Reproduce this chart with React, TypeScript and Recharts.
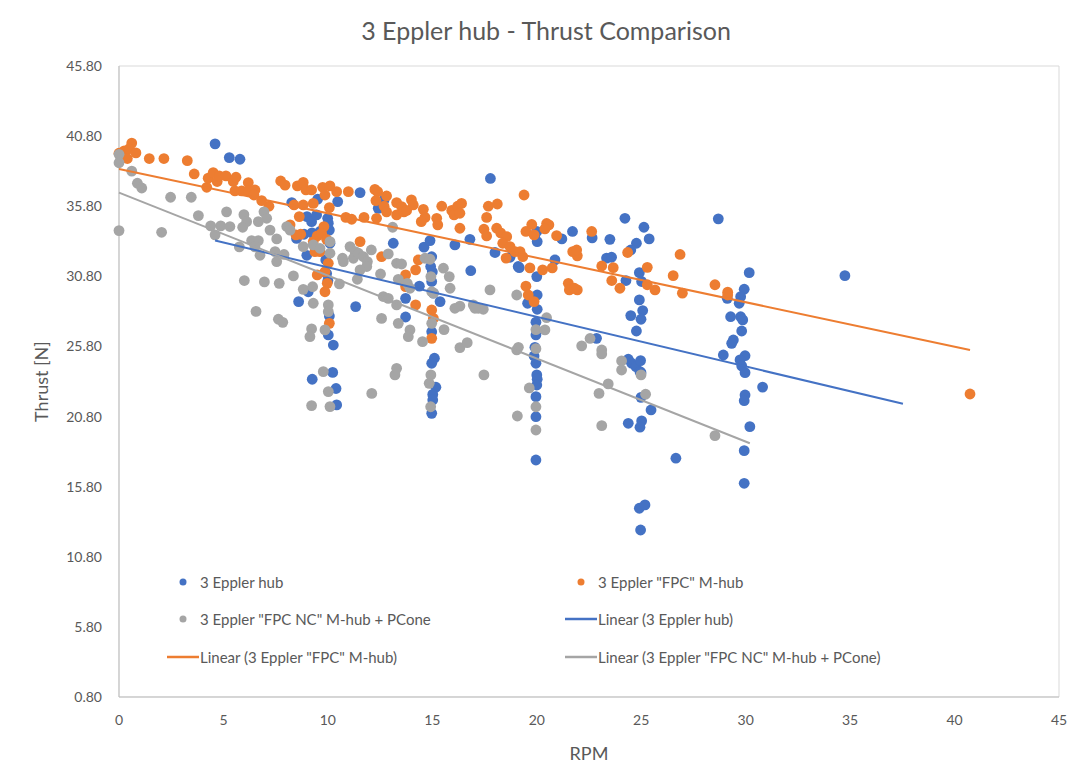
import { ScatterChart, Scatter, XAxis, YAxis, ReferenceArea, Label } from 'recharts';

const FONT = 'Lato, "Open Sans", sans-serif';
const TEXT = '#595959';
const BLUE = '#4472C4';
const ORANGE = '#ED7D31';
const GRAY = '#A5A5A5';

const xTicks = [0, 5, 10, 15, 20, 25, 30, 35, 40, 45];
const yTicks = [0.8, 5.8, 10.8, 15.8, 20.8, 25.8, 30.8, 35.8, 40.8, 45.8];

// [rpm, thrust]
const hub = [
  [4.6, 40.25], [5.28, 39.27], [5.79, 39.15], [8.27, 36.06], [9.51, 36.3], [10.47, 36.13], [9.0, 35.06], [9.22, 34.7],
  [9.46, 35.18], [9.99, 34.94], [10.02, 34.59], [8.5, 33.5], [8.86, 33.8], [9.24, 33.9], [9.62, 34.0], [10.07, 34.1],
  [10.1, 33.16], [9.9, 31.97], [9.94, 31.0], [10.0, 30.5], [8.99, 32.3], [9.06, 29.7], [8.6, 29.0], [10.07, 27.97],
  [11.33, 28.64], [11.54, 36.77], [17.78, 37.78], [12.41, 35.65], [12.69, 36.25], [13.13, 33.16], [14.6, 32.88],
  [14.89, 33.35], [14.97, 32.2], [14.92, 31.5], [15.0, 31.13], [14.97, 30.43], [15.05, 29.6], [15.37, 29.0],
  [13.72, 29.23], [14.38, 30.1], [16.08, 33.04], [16.8, 33.44], [16.84, 31.2], [18.0, 32.5], [18.72, 32.16],
  [19.11, 31.5], [13.72, 27.9], [24.22, 34.94], [25.13, 34.3], [25.38, 33.47], [24.77, 33.16], [24.5, 32.68],
  [28.69, 34.9], [21.71, 34.0], [22.65, 33.54], [23.5, 33.44], [21.2, 33.47], [19.91, 33.76], [20.02, 33.28],
  [20.0, 34.0], [20.87, 31.97], [19.16, 31.42], [23.34, 32.1], [23.58, 32.16], [24.27, 30.5], [24.91, 31.06],
  [25.02, 30.43], [20.0, 30.78], [20.02, 29.47], [20.02, 28.45], [19.96, 27.53], [19.96, 26.62], [19.91, 25.74],
  [19.87, 25.12], [19.96, 24.6], [20.0, 23.77], [20.02, 23.46], [20.0, 23.05], [19.96, 22.22], [19.96, 20.79],
  [19.96, 17.7], [19.56, 28.88], [22.86, 26.38], [24.91, 29.12], [25.07, 28.36], [24.99, 27.74], [24.77, 26.9],
  [24.5, 28.0], [24.38, 24.89], [24.54, 24.6], [24.75, 24.36], [24.97, 24.79], [24.94, 24.0], [24.99, 22.17],
  [30.17, 31.06], [29.93, 29.88], [29.76, 29.35], [29.69, 28.88], [29.12, 29.23], [29.28, 27.92], [29.76, 27.92],
  [29.86, 27.69], [29.81, 26.9], [29.41, 26.26], [29.33, 26.02], [29.97, 25.14], [29.73, 24.84], [29.81, 24.41],
  [29.97, 23.93], [28.93, 25.19], [30.81, 22.9], [29.97, 22.34], [34.75, 30.85], [29.93, 21.93], [30.2, 20.08],
  [29.93, 18.37], [29.93, 16.04], [24.99, 23.93], [25.47, 21.27], [24.38, 20.32], [25.02, 20.49], [24.94, 20.04],
  [26.66, 17.83], [24.91, 14.26], [25.18, 14.5], [24.97, 12.71], [10.02, 26.62], [10.26, 25.9], [9.25, 23.46],
  [10.23, 23.95], [10.39, 22.8], [10.42, 21.63], [14.97, 26.85], [15.1, 24.96], [14.97, 24.6], [15.17, 22.89],
  [15.02, 22.38], [15.02, 21.98], [14.97, 21.03],
];

const fpcHub = [
  [0, 39.58], [0.25, 39.75], [0.61, 40.3], [0.49, 39.9], [0.81, 39.6], [0.4, 39.2], [1.45, 39.2], [2.15, 39.2],
  [3.27, 39.05], [3.6, 38.1], [4.2, 37.15], [4.27, 37.8], [4.51, 38.2], [4.7, 37.56], [4.8, 37.96], [5.12, 37.96],
  [5.47, 37.56], [5.6, 37.87], [5.55, 36.89], [5.87, 36.89], [6.19, 37.48], [6.19, 36.89], [6.51, 36.96],
  [6.46, 36.6], [7.74, 37.6], [7.95, 37.3], [8.54, 37.25], [8.82, 37.5], [8.95, 36.96], [9.22, 36.96],
  [9.75, 37.15], [10.1, 37.25], [10.42, 36.84], [10.98, 36.84], [9.86, 36.6], [10.07, 35.7], [10.86, 35.0],
  [11.73, 35.0], [12.33, 34.94], [12.25, 37.0], [12.38, 36.84], [12.81, 36.53], [12.3, 36.2], [12.69, 35.8],
  [12.81, 35.4], [13.29, 36.06], [13.53, 35.77], [13.29, 35.18], [13.64, 35.4], [14.0, 36.25], [14.09, 35.89],
  [13.77, 35.5], [14.57, 35.58], [14.65, 35.0], [14.47, 34.7], [15.21, 34.94], [15.26, 34.47], [15.45, 35.8],
  [15.93, 35.5], [16.04, 35.18], [16.21, 35.8], [16.4, 36.0], [16.32, 35.3], [16.32, 34.23], [17.68, 35.8],
  [18.11, 35.96], [17.6, 35.0], [17.47, 34.16], [18.08, 34.23], [18.27, 33.9], [17.6, 33.68], [18.56, 33.63],
  [18.37, 33.16], [18.72, 32.92], [18.96, 32.56], [18.53, 32.1], [19.2, 32.56], [7.18, 35.8], [6.83, 36.2],
  [8.38, 35.89], [8.82, 35.89], [9.3, 36.0], [11.14, 34.87], [8.63, 35.06], [8.19, 34.47], [8.7, 33.8],
  [8.47, 33.76], [9.49, 33.68], [9.81, 34.35], [9.7, 33.86], [9.94, 33.44], [9.3, 33.28], [9.38, 32.56],
  [9.62, 32.56], [10.02, 31.73], [9.86, 31.13], [9.49, 30.9], [9.97, 30.3], [9.86, 29.7], [10.07, 27.45],
  [11.54, 33.28], [12.57, 32.2], [13.72, 30.9], [14.2, 31.26], [14.33, 31.97], [13.72, 30.07], [14.2, 28.76],
  [14.97, 28.4], [15.05, 27.8], [14.97, 26.38], [19.39, 36.6], [19.33, 32.2], [19.76, 34.5], [19.48, 34.0],
  [19.87, 33.76], [20.47, 34.57], [20.58, 34.47], [20.39, 34.18], [20.95, 33.7], [19.67, 31.4], [20.28, 31.26],
  [20.74, 31.4], [19.48, 30.1], [19.59, 29.47], [19.87, 29.0], [21.51, 30.3], [21.56, 29.83], [21.94, 29.83],
  [21.8, 29.95], [21.72, 32.56], [21.94, 32.26], [21.91, 32.68], [22.63, 34.0], [23.11, 31.54], [23.66, 31.42],
  [23.59, 30.5], [23.98, 29.95], [24.35, 32.5], [25.29, 31.44], [25.29, 30.2], [25.66, 29.83], [26.53, 30.85],
  [26.86, 32.36], [26.97, 29.6], [28.53, 30.2], [29.14, 29.67], [29.14, 29.47], [40.74, 22.41],
];

const fpcNcCone = [
  [0, 39.5], [0, 38.9], [0.61, 38.3], [0.88, 37.44], [1.09, 37.1], [0, 34.06], [2.04, 33.94], [2.47, 36.44],
  [3.46, 36.44], [3.8, 35.13], [4.39, 34.4], [4.6, 33.76], [4.87, 34.4], [5.31, 34.35], [5.15, 35.4], [5.98, 35.2],
  [6.11, 34.7], [5.92, 34.3], [6.94, 35.4], [7.07, 34.94], [6.67, 34.7], [7.23, 34.1], [5.76, 32.9], [6.35, 33.35],
  [6.67, 33.35], [6.51, 32.9], [6.75, 32.3], [7.55, 33.47], [8.03, 34.35], [8.19, 34.1], [7.47, 32.56], [7.9, 32.36],
  [7.55, 31.85], [6.0, 30.5], [6.96, 30.4], [7.67, 30.3], [8.35, 30.83], [8.82, 29.87], [9.27, 30.06], [9.3, 28.88],
  [10.02, 28.76], [10.02, 28.28], [10.55, 30.26], [6.56, 28.3], [8.82, 32.92], [9.3, 33.04], [10.1, 33.28],
  [10.1, 32.45], [9.62, 32.8], [13.1, 34.3], [12.08, 32.68], [11.06, 32.92], [11.3, 32.56], [11.22, 32.09],
  [11.46, 32.45], [11.7, 32.2], [11.89, 31.85], [11.86, 31.5], [11.54, 31.26], [11.41, 30.59], [10.74, 31.85],
  [10.7, 32.09], [12.52, 30.97], [12.89, 32.4], [13.29, 31.73], [13.53, 31.68], [13.37, 30.59], [14.65, 32.09],
  [14.89, 32.02], [15.53, 31.38], [15.81, 30.78], [15.05, 29.6], [15.85, 29.95], [17.76, 29.83], [16.32, 28.68],
  [16.96, 28.76], [17.2, 28.52], [17.44, 28.45], [19.04, 29.47], [12.65, 29.36], [12.89, 29.23], [12.57, 27.8],
  [13.8, 30.3], [13.93, 29.95], [13.29, 28.76], [7.63, 27.74], [7.84, 27.52], [9.22, 27.05], [9.14, 26.5],
  [9.86, 26.98], [9.78, 24.0], [10.02, 22.58], [9.22, 21.58], [10.1, 21.51], [13.37, 27.45], [13.93, 26.98],
  [13.85, 26.5], [14.53, 26.14], [13.21, 23.77], [13.29, 24.24], [12.1, 22.45], [14.93, 23.77], [14.85, 23.17],
  [14.93, 30.78], [14.97, 29.7], [14.97, 27.45], [14.92, 21.5], [15.56, 27.0], [16.32, 25.72], [16.67, 26.07],
  [16.08, 28.52], [17.04, 28.52], [17.47, 23.77], [19.07, 20.84], [19.12, 25.74], [19.04, 25.55], [19.64, 22.84],
  [19.96, 27.0], [19.96, 25.64], [19.96, 21.5], [19.96, 19.84], [23.42, 23.13], [22.98, 22.45], [23.11, 20.15],
  [20.47, 27.85], [20.39, 26.98], [22.15, 25.84], [22.55, 26.37], [23.11, 25.55], [23.11, 25.27], [24.06, 24.77],
  [24.06, 24.12], [24.99, 23.77], [25.21, 22.39], [28.53, 19.44],
];

// linear trendline end points
const hubTrend = [[4.6, 33.35], [37.53, 21.71]];
const fpcHubTrend = [[0, 38.46], [40.74, 25.55]];
const fpcNcConeTrend = [[0, 36.77], [30.2, 18.9]];

const legendItems = [
  { label: '3 Eppler hub', color: BLUE, kind: 'dot' },
  { label: '3 Eppler "FPC" M-hub', color: ORANGE, kind: 'dot' },
  { label: '3 Eppler "FPC NC" M-hub + PCone', color: GRAY, kind: 'dot' },
  { label: 'Linear (3 Eppler hub)', color: BLUE, kind: 'line' },
  { label: 'Linear (3 Eppler "FPC" M-hub)', color: ORANGE, kind: 'line' },
  { label: 'Linear (3 Eppler "FPC NC" M-hub + PCone)', color: GRAY, kind: 'line' },
];

const toPoints = (rows: number[][]) => rows.map(([rpm, thrust]) => ({ rpm, thrust }));

// legend sits inside the plot area, two columns
function ChartLegend() {
  return (
    <div
      style={{
        position: 'absolute',
        left: 167,
        top: 563,
        display: 'grid',
        gridTemplateColumns: '398px 420px',
        fontFamily: FONT,
        fontSize: 15,
        color: TEXT,
      }}
    >
      {legendItems.map((item) => (
        <div key={item.label} style={{ display: 'flex', alignItems: 'center', height: 37.5 }}>
          <svg width={33} height={10} style={{ flexShrink: 0 }}>
            {item.kind === 'dot' ? (
              <circle cx={16} cy={5} r={3.5} fill={item.color} />
            ) : (
              <line x1={0} x2={32} y1={5} y2={5} stroke={item.color} strokeWidth={2.5} />
            )}
          </svg>
          <span style={{ whiteSpace: 'nowrap' }}>{item.label}</span>
        </div>
      ))}
    </div>
  );
}

const dot = (color: string) => (p: any) => <circle cx={p.cx} cy={p.cy} r={5.4} fill={color} />;
const noDot = () => <g />;

export default function App() {
  const tickStyle = { fill: TEXT, fontSize: 14, fontFamily: FONT };
  return (
    <div style={{ position: 'relative', width: 1076, height: 782, margin: -8, background: '#fff' }}>
      <div
        style={{
          position: 'absolute',
          left: 6,
          top: 4,
          width: 1070,
          height: 778,
          border: '1px solid #d9d9d9',
          boxSizing: 'border-box',
        }}
      />
      <ScatterChart width={1076} height={782} margin={{ top: 66, right: 17, bottom: 15, left: 39 }}>
        <ReferenceArea x1={0} x2={45} y1={0.8} y2={45.8} fill="none" stroke="#d9d9d9" />
        <XAxis
          type="number"
          dataKey="rpm"
          domain={[0, 45]}
          ticks={xTicks}
          tick={tickStyle}
          tickLine={false}
          tickMargin={12}
          axisLine={{ stroke: '#bfbfbf' }}
          height={70}
        >
          <Label value="RPM" position="insideBottom" offset={7} style={{ fill: TEXT, fontSize: 18, fontFamily: FONT }} />
        </XAxis>
        <YAxis
          type="number"
          dataKey="thrust"
          domain={[0.8, 45.8]}
          ticks={yTicks}
          tickFormatter={(v: number) => v.toFixed(2)}
          tick={tickStyle}
          tickLine={false}
          tickMargin={11}
          axisLine={{ stroke: '#bfbfbf' }}
          width={80}
        >
          <Label
            value="Thrust [N]"
            angle={-90}
            position="insideLeft"
            offset={3}
            style={{ textAnchor: 'middle', fill: TEXT, fontSize: 18, fontFamily: FONT }}
          />
        </YAxis>
        <Scatter name="3 Eppler hub" data={toPoints(hub)} fill={BLUE} shape={dot(BLUE)} isAnimationActive={false} />
        <Scatter name='3 Eppler "FPC" M-hub' data={toPoints(fpcHub)} fill={ORANGE} shape={dot(ORANGE)} isAnimationActive={false} />
        <Scatter name='3 Eppler "FPC NC" M-hub + PCone' data={toPoints(fpcNcCone)} fill={GRAY} shape={dot(GRAY)} isAnimationActive={false} />
        <Scatter data={toPoints(hubTrend)} line={{ stroke: BLUE, strokeWidth: 2 }} shape={noDot} isAnimationActive={false} />
        <Scatter data={toPoints(fpcHubTrend)} line={{ stroke: ORANGE, strokeWidth: 2 }} shape={noDot} isAnimationActive={false} />
        <Scatter data={toPoints(fpcNcConeTrend)} line={{ stroke: GRAY, strokeWidth: 2 }} shape={noDot} isAnimationActive={false} />
      </ScatterChart>
      <div
        style={{
          position: 'absolute',
          left: 196,
          top: 15,
          width: 700,
          textAlign: 'center',
          fontFamily: FONT,
          fontSize: 25,
          color: TEXT,
        }}
      >
        3 Eppler hub - Thrust Comparison
      </div>
      <ChartLegend />
    </div>
  );
}
